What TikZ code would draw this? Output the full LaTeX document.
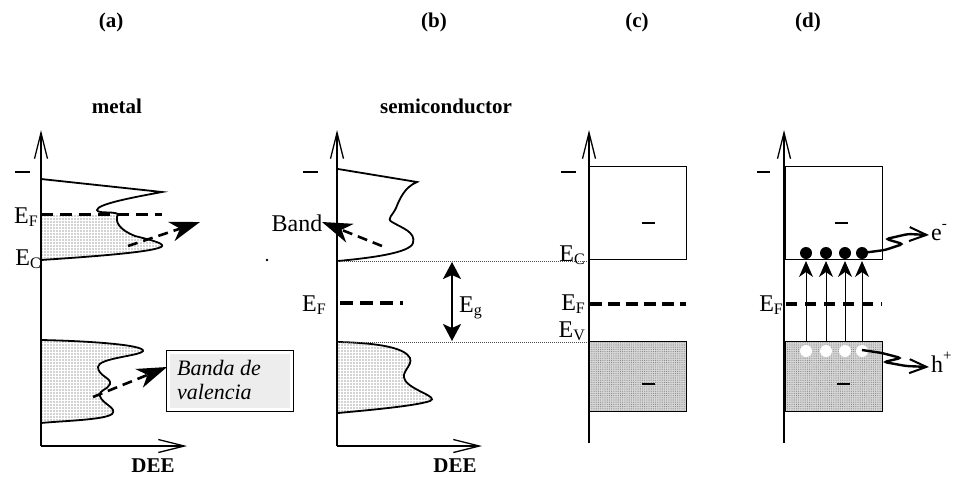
\documentclass[tikz,border=0pt]{standalone}
\usepackage{fontspec}
\setmainfont{Liberation Serif}
\usetikzlibrary{arrows.meta,patterns.meta}
\newcommand\sublab[1]{\raisebox{-0.3ex}{\fontsize{16}{16}\selectfont #1}}
\newcommand\suplab[1]{\raisebox{1.0ex}{\fontsize{15}{15}\selectfont #1}}
\tikzset{
  axisline/.style={line width=1.4pt,-{Straight Barb[length=26pt,width=13pt,line width=1.3pt]}},
  title/.style={font=\bfseries\fontsize{21}{23}\selectfont},
  lab/.style={font=\fontsize{24}{27}\selectfont},
  curve/.style={line width=1.8pt},
  stipple/.style={pattern={Dots[distance=3pt,radius=0.7pt]},pattern color=black!75},
  densefill/.style={fill=black!16},
  densedots/.style={pattern={Dots[distance=2.2pt,radius=0.55pt]},pattern color=black!50},
  dasharrow/.style={line width=2.6pt,dash pattern=on 10pt off 6pt,-{Stealth[length=30pt,width=20pt,inset=9pt]}},
  dotline/.style={line width=1pt,black!70,dash pattern=on 1pt off 1pt},
  tickmark/.style={line width=1.6pt},
  boxline/.style={line width=0.9pt},
  uparrow/.style={line width=0.9pt,-{Stealth[length=16pt,width=14pt,inset=5pt]}},
  wave/.style={line width=2.4pt,rounded corners=3pt,-{Straight Barb[length=17pt,width=14pt,line width=2pt]}},
}
\begin{document}
\begin{tikzpicture}[x=1pt,y=-1pt]
\useasboundingbox (0,0) rectangle (957,477);

% titles
\node[title] (ta) at (111,22) {(a)};
\node[title] (tb) at (434,22) {(b)};
\node[title] (tc) at (637,22) {(c)};
\node[title] (td) at (808,22) {(d)};
\node[title] (tmetal) at (117,106) {metal};
\node[title] (tsemi) at (446,106) {semiconductor};
\node[title] (dee1) at (153,466) {DEE};
\node[title] (dee2) at (455,466) {DEE};

% ================= panel (a)
\fill[stipple] (41,214) -- (118,214) .. controls (114,222) and (120,230) .. (135,236)
   .. controls (155,241) and (166,244) .. (161,247) .. controls (150,253) and (70,258) .. (41,260) -- cycle;
\draw[curve] (41,179) -- (162,192) .. controls (135,197) and (97,204) .. (97,210)
   .. controls (98,214) and (112,211) .. (118,214) .. controls (114,222) and (120,230) .. (135,236)
   .. controls (155,241) and (166,244) .. (161,247) .. controls (150,253) and (70,258) .. (41,260);
\path[stipple] (41,340) .. controls (90,341) and (145,345) .. (143,351)
   .. controls (140,356) and (98,358) .. (98,367) .. controls (98,376) and (112,378) .. (110,384)
   .. controls (108,390) and (98,390) .. (100,396) .. controls (102,404) and (118,408) .. (112,414)
   .. controls (105,420) and (60,421) .. (41,423) -- cycle;
\draw[curve] (41,340) .. controls (90,341) and (145,345) .. (143,351)
   .. controls (140,356) and (98,358) .. (98,367) .. controls (98,376) and (112,378) .. (110,384)
   .. controls (108,390) and (98,390) .. (100,396) .. controls (102,404) and (118,408) .. (112,414)
   .. controls (105,420) and (60,421) .. (41,423);
\coordinate (a0) at (41,446);
\coordinate (atop) at (41,130);
\coordinate (aright) at (187,446);
\draw[axisline] (a0) -- (atop);
\draw[axisline] (a0) -- (aright);
\draw[tickmark] (15,172) -- (30,172);
\coordinate (aef1) at (41,214);
\coordinate (aef2) at (162,214);
\draw[line width=3pt,dash pattern=on 12pt off 7pt] (aef1) -- (aef2);
\node[lab,anchor=base east,inner sep=0pt] (aEF) at (38,223) {E\sublab{F}};
\node[lab,anchor=base east,inner sep=0pt] (aEC) at (41,265) {E\sublab{C}};
\coordinate (as1) at (128,246);
\coordinate (at1) at (200,222);
\draw[dasharrow] (as1) -- (at1);
% box
\node[draw,boxline,fill=white,anchor=north west,minimum width=127pt,minimum height=61pt,inner sep=0pt] (vbox) at (166,350) {};
\fill[black!7] ([shift={(4pt,-4pt)}]vbox.north west) rectangle ([shift={(-4pt,4pt)}]vbox.south east);
\node[lab,font=\itshape\fontsize{22}{24}\selectfont,anchor=base west,inner sep=0pt] (vt1) at (177,375) {Banda de};
\node[lab,font=\itshape\fontsize{22}{24}\selectfont,anchor=base west,inner sep=0pt] (vt2) at (177,399) {valencia};
\coordinate (as2) at (93,397);
\coordinate (at2) at (167,367);
\draw[dasharrow] (as2) -- (at2);
\fill (267,260) circle (1.3pt);

% ================= panel (b)
\path[stipple] (338,342) .. controls (380,343) and (405,348) .. (410,358)
   .. controls (413,366) and (400,372) .. (405,380) .. controls (410,390) and (440,397) .. (430,401)
   .. controls (415,406) and (370,410) .. (338,413) -- cycle;
\draw[curve] (338,342) .. controls (380,343) and (405,348) .. (410,358)
   .. controls (413,366) and (400,372) .. (405,380) .. controls (410,390) and (440,397) .. (430,401)
   .. controls (415,406) and (370,410) .. (338,413);
\draw[curve] (338,169) -- (417,182) .. controls (405,187) and (400,198) .. (396,208)
   .. controls (393,215) and (386,219) .. (392,222) .. controls (402,228) and (416,232) .. (413,243)
   .. controls (410,253) and (370,258) .. (338,261);
\coordinate (b0) at (337,446);
\coordinate (btop) at (337,130);
\coordinate (bright) at (482,446);
\draw[axisline] (b0) -- (btop);
\draw[axisline] (b0) -- (bright);
\draw[tickmark] (303,172) -- (318,172);
\coordinate (ecl) at (338,261);
\coordinate (ecr) at (588,261);
\coordinate (evl) at (338,342);
\coordinate (evr) at (588,342);
\draw[dotline] (ecl) -- (ecr);
\draw[dotline] (evl) -- (evr);
\node[lab,inner sep=0pt] (band) at (297,223) {Band};
\coordinate (bs) at (382,246);
\coordinate (bt) at (322,222);
\draw[dasharrow] (bs) -- (bt);
\coordinate (eg1) at (452,262);
\coordinate (eg2) at (452,341);
\draw[line width=2pt,{Stealth[length=17pt,width=18pt,inset=4pt]}-{Stealth[length=17pt,width=18pt,inset=4pt]}] (eg1) -- (eg2);
\node[lab,anchor=base west,inner sep=0pt] (Eg) at (459,312) {E\sublab{g}};
\node[lab,anchor=base east,inner sep=0pt] (bEF) at (326,311) {E\sublab{F}};
\coordinate (bef1) at (340,303);
\coordinate (bef2) at (403,303);
\draw[line width=3.5pt,dash pattern=on 13pt off 7pt] (bef1) -- (bef2);

% ================= panel (c)
\node[draw,boxline,anchor=north west,minimum width=97pt,minimum height=93pt,inner sep=0pt] (cup) at (589,166) {};
\fill[densefill] (589,341) rectangle (686,411);
\fill[densedots] (589,341) rectangle (686,411);
\node[draw,boxline,anchor=north west,minimum width=97pt,minimum height=70pt,inner sep=0pt] (clo) at (589,341) {};
\coordinate (c0) at (589,443);
\coordinate (ctop) at (589,130);
\draw[axisline] (c0) -- (ctop);
\draw[tickmark] (561,172) -- (576,172);
\draw[tickmark] (642,223) -- (655,223);
\draw[tickmark] (642,384) -- (655,384);
\node[lab,anchor=base east,inner sep=0pt] (cEC) at (585,261) {E\sublab{C}};
\node[lab,anchor=base east,inner sep=0pt] (cEF) at (585,310) {E\sublab{F}};
\node[lab,anchor=base east,inner sep=0pt] (cEV) at (585,337) {E\sublab{V}};
\coordinate (cef1) at (590,304);
\coordinate (cef2) at (686,304);
\draw[line width=4.5pt,dash pattern=on 12pt off 6pt] (cef1) -- (cef2);

% ================= panel (d)
\node[draw,boxline,anchor=north west,minimum width=97pt,minimum height=93pt,inner sep=0pt] (dup) at (785,166) {};
\fill[densefill] (785,341) rectangle (882,411);
\fill[densedots] (785,341) rectangle (882,411);
\node[draw,boxline,anchor=north west,minimum width=97pt,minimum height=70pt,inner sep=0pt] (dlo) at (785,341) {};
\coordinate (d0) at (784,443);
\coordinate (dtop) at (784,130);
\draw[axisline] (d0) -- (dtop);
\draw[tickmark] (757,172) -- (770,172);
\draw[tickmark] (835,223) -- (848,223);
\draw[tickmark] (837,384) -- (850,384);
\coordinate (def1) at (786,304);
\coordinate (def2) at (882,304);
\draw[line width=4.5pt,dash pattern=on 11pt off 8pt] (def1) -- (def2);
\node[lab,anchor=base east,inner sep=0pt] (dEF) at (783,311) {E\sublab{F}};
\foreach \x/\n in {806/1,826/2,845/3,862/4}{
  \coordinate (lo\n) at (\x,341);
  \coordinate (hi\n) at (\x,261);
  \draw[uparrow] (lo\n) -- (hi\n);
  \fill (\x,253) circle (6pt);
  \fill[white] (\x,351) circle (6pt);
}
\node[lab,anchor=base west,inner sep=0pt] (elab) at (931,240) {e\suplab{-}};
\node[lab,anchor=base west,inner sep=0pt] (hlab) at (931,372) {h\suplab{+}};
\coordinate (eend) at (929,235);
\coordinate (hend) at (929,367);
\draw[wave] (862,253) -- (885,250) -- (903,244) -- (886,239) -- (908,234) -- (eend);
\draw[wave] (862,350) -- (882,353) -- (901,358) -- (884,362) -- (906,366) -- (hend);
\end{tikzpicture}
\end{document}
